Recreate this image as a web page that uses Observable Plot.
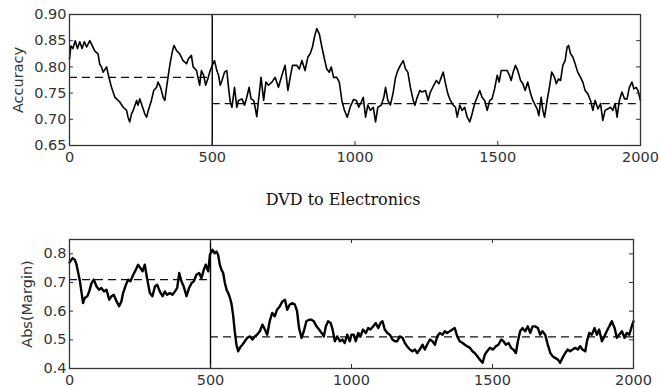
<!DOCTYPE html>
<html><head><meta charset="utf-8">
<script src="https://cdn.jsdelivr.net/npm/d3@7"></script>
<script src="https://cdn.jsdelivr.net/npm/@observablehq/plot@0.6"></script>
<style>
body{margin:0;background:#fff;width:660px;height:387px;overflow:hidden;position:relative;}
#top{position:absolute;left:0;top:0;}
#bot{position:absolute;left:0;top:230px;}
#title{position:absolute;left:343px;top:192px;transform:translateX(-50%);white-space:nowrap;font-family:"DejaVu Serif",serif;font-size:16px;line-height:1;color:#111;}
</style></head><body>
<div id="top"></div>
<div id="title"></div>
<div id="bot"></div>
<script>
const titleText = "DVD to Electronics";
const accLabel = "Accuracy";
const marginLabel = "Abs(Margin)";
const switchPoint = [500];
const xTicks = [0, 500, 1000, 1500, 2000];
const accTicks = [0.65, 0.70, 0.75, 0.80, 0.85, 0.90];
const marginTicks = [0.4, 0.5, 0.6, 0.7, 0.8];

// Accuracy series (instance index, value)
const accT = [0,5,12,20,28,36,44,52,60,71,80,89,100,106,112,118,130,135,141,147,159,165,176,188,200,205,211,217,223,235,240,246,256,264,270,276,287,295,305,310,319,328,334,340,346,354,361,366,375,386,398,410,416,427,433,445,450,456,462,470,477,486,491,500,
508,516,522,528,534,543,551,557,563,569,578,586,592,604,613,621,629,636,645,650,656,662,671,680,688,697,709,720,732,744,755,765,773,781,796,805,814,825,835,843,851,858,866,875,884,893,901,910,917,925,936,945,954,963,973,983,995,
1005,1013,1022,1029,1037,1045,1054,1064,1072,1080,1092,1101,1107,1115,1124,1134,1142,1150,1159,1169,1177,1185,1194,1204,1210,1218,1227,1235,1247,1256,1264,1276,1285,1294,1302,1309,1317,1325,1334,1344,1352,1358,1367,1375,1384,1393,1402,1410,1419,1428,1437,1445,1454,1463,1472,1480,1489,1498,
1505,1512,1524,1533,1541,1547,1554,1562,1570,1580,1588,1596,1605,1615,1623,1631,1638,1644,1652,1658,1664,1673,1681,1689,1699,1705,1713,1720,1728,1736,1743,1748,1755,1763,1771,1780,1790,1798,1806,1815,1825,1833,1841,1851,1860,1868,1876,1886,1895,1903,1911,1918,1926,1935,1944,1953,1961,1970,1977,1985,1991,2000];
const accV = [0.815,0.84,0.835,0.85,0.835,0.848,0.835,0.848,0.838,0.85,0.84,0.83,0.825,0.805,0.80,0.79,0.80,0.787,0.774,0.761,0.742,0.739,0.733,0.723,0.717,0.704,0.695,0.71,0.717,0.736,0.727,0.739,0.723,0.71,0.704,0.717,0.736,0.755,0.761,0.771,0.761,0.742,0.736,0.761,0.784,0.812,0.831,0.841,0.831,0.825,0.812,0.806,0.815,0.822,0.80,0.793,0.78,0.765,0.793,0.784,0.765,0.78,0.79,0.803,
0.812,0.793,0.784,0.765,0.774,0.79,0.793,0.761,0.733,0.723,0.761,0.723,0.736,0.739,0.727,0.742,0.761,0.739,0.736,0.723,0.705,0.736,0.78,0.736,0.771,0.765,0.771,0.78,0.761,0.784,0.803,0.755,0.78,0.803,0.803,0.796,0.812,0.793,0.819,0.825,0.838,0.857,0.873,0.863,0.838,0.815,0.796,0.79,0.80,0.78,0.78,0.771,0.736,0.717,0.704,0.723,0.738,
0.736,0.723,0.733,0.742,0.704,0.727,0.717,0.723,0.695,0.723,0.727,0.742,0.761,0.736,0.727,0.752,0.78,0.793,0.803,0.812,0.796,0.79,0.761,0.736,0.727,0.742,0.755,0.752,0.755,0.736,0.752,0.765,0.774,0.768,0.78,0.79,0.768,0.749,0.736,0.727,0.723,0.704,0.727,0.717,0.723,0.704,0.695,0.71,0.73,0.742,0.755,0.742,0.736,0.717,0.736,0.739,0.758,0.784,
0.771,0.793,0.793,0.793,0.784,0.774,0.79,0.803,0.793,0.774,0.768,0.755,0.771,0.749,0.736,0.727,0.72,0.707,0.742,0.717,0.704,0.736,0.761,0.79,0.78,0.768,0.777,0.774,0.803,0.812,0.838,0.841,0.825,0.819,0.806,0.79,0.78,0.771,0.755,0.749,0.736,0.717,0.736,0.72,0.73,0.698,0.717,0.72,0.723,0.717,0.73,0.704,0.736,0.752,0.739,0.739,0.761,0.771,0.758,0.761,0.755,0.736];
const accMeanX1 = [0, 500];
const accMeanX2 = [500, 2000];
const accMeanV = [0.78, 0.73];

// Abs(Margin) series
const marT = [0,11,19,25,31,37,43,48,54,63,70,78,86,96,105,113,122,131,141,149,157,167,176,184,190,200,208,216,226,235,243,252,259,267,275,285,294,303,311,320,330,338,346,356,365,374,382,389,397,405,415,424,433,441,450,460,468,476,483,492,498,
507,515,521,527,533,539,545,551,557,563,569,574,580,586,592,598,604,613,622,630,640,649,657,665,675,684,693,701,710,719,728,736,746,755,764,772,781,791,799,807,814,823,831,840,850,858,866,876,885,894,902,909,917,926,933,941,949,959,968,976,985,994,
1000,1008,1015,1024,1032,1041,1051,1059,1067,1077,1086,1095,1103,1110,1118,1127,1136,1145,1154,1162,1171,1181,1189,1197,1207,1216,1225,1233,1242,1252,1260,1268,1278,1287,1296,1304,1313,1323,1331,1339,1349,1358,1366,1375,1384,1394,1402,1410,1420,1429,1437,1446,1455,1465,1473,1481,1491,
1502,1512,1521,1531,1539,1547,1557,1566,1574,1583,1590,1598,1606,1616,1625,1634,1642,1651,1661,1669,1677,1687,1696,1705,1713,1722,1732,1740,1748,1758,1767,1775,1784,1793,1803,1811,1819,1829,1835,1843,1852,1862,1870,1878,1888,1897,1905,1914,1923,1933,1941,1949,1959,1968,1976,1985,1992,2000];
const marV = [0.77,0.785,0.779,0.762,0.733,0.704,0.663,0.628,0.646,0.652,0.669,0.698,0.71,0.686,0.675,0.681,0.669,0.675,0.64,0.652,0.657,0.634,0.617,0.634,0.663,0.692,0.71,0.704,0.727,0.744,0.762,0.75,0.739,0.762,0.715,0.663,0.652,0.686,0.692,0.669,0.652,0.669,0.657,0.663,0.657,0.669,0.681,0.733,0.704,0.686,0.652,0.681,0.698,0.704,0.727,0.733,0.715,0.744,0.762,0.739,0.797,
0.814,0.802,0.808,0.797,0.762,0.744,0.733,0.698,0.675,0.663,0.646,0.628,0.588,0.53,0.483,0.46,0.472,0.483,0.495,0.507,0.512,0.501,0.512,0.518,0.53,0.553,0.536,0.518,0.565,0.594,0.582,0.605,0.617,0.634,0.64,0.605,0.623,0.628,0.623,0.60,0.541,0.507,0.53,0.565,0.57,0.57,0.565,0.547,0.536,0.524,0.512,0.547,0.565,0.559,0.536,0.495,0.512,0.495,0.501,0.489,0.518,0.495,
0.518,0.518,0.495,0.524,0.512,0.536,0.524,0.541,0.536,0.547,0.559,0.541,0.559,0.565,0.536,0.524,0.518,0.501,0.495,0.495,0.512,0.507,0.489,0.478,0.466,0.46,0.466,0.454,0.466,0.483,0.466,0.483,0.501,0.495,0.483,0.512,0.524,0.518,0.53,0.524,0.53,0.536,0.541,0.512,0.495,0.489,0.483,0.478,0.472,0.46,0.454,0.443,0.431,0.42,0.449,0.46,0.472,
0.466,0.478,0.483,0.501,0.495,0.483,0.489,0.472,0.466,0.454,0.495,0.53,0.541,0.53,0.547,0.524,0.547,0.547,0.541,0.518,0.53,0.518,0.483,0.454,0.443,0.437,0.431,0.42,0.437,0.454,0.466,0.46,0.466,0.472,0.466,0.478,0.466,0.46,0.495,0.524,0.518,0.541,0.518,0.536,0.495,0.512,0.53,0.547,0.565,0.541,0.507,0.518,0.53,0.507,0.524,0.518,0.541,0.565];
const marMeanX1 = [0, 500];
const marMeanX2 = [500, 2000];
const marMeanV = [0.71, 0.51];

const accData = accT.map((t, i) => ({t, v: accV[i]}));
const marData = marT.map((t, i) => ({t, v: marV[i]}));
const accMeans = accMeanV.map((v, i) => ({v, x1: accMeanX1[i], x2: accMeanX2[i]}));
const marMeans = marMeanV.map((v, i) => ({v, x1: marMeanX1[i], x2: marMeanX2[i]}));

const axisColor = "#333";
const textColor = "#333";

function panel({data, means, yDomain, yTicks, yFmt, label, height, mt, mb, mr, labelDx, lineWidth}) {
  const fw = 660 - 69 - mr;
  const fh = height - mt - mb;
  return Plot.plot({
    width: 660, height,
    marginTop: mt, marginBottom: mb, marginLeft: 69, marginRight: mr,
    x: {domain: [0, 2000]},
    y: {domain: yDomain},
    style: {fontFamily: "DejaVu Sans, sans-serif", fontSize: "14.5px", color: textColor, background: "transparent", overflow: "visible"},
    marks: [
      Plot.ruleY(means, {y: "v", x1: "x1", x2: "x2", stroke: "#111", strokeWidth: 1.2, strokeDasharray: "8,5"}),
      Plot.line(data, {x: "t", y: "v", stroke: "#000", strokeWidth: lineWidth, strokeLinejoin: "round"}),
      Plot.ruleX(switchPoint, {stroke: "#000", strokeWidth: 1.4}),
      Plot.ruleX(xTicks, {x: d => d, stroke: axisColor, insetTop: fh - 4}),
      Plot.ruleX(xTicks, {x: d => d, stroke: axisColor, insetBottom: fh - 4}),
      Plot.ruleY(yTicks, {y: d => d, stroke: axisColor, insetRight: fw - 4}),
      Plot.ruleY(yTicks, {y: d => d, stroke: axisColor, insetLeft: fw - 4}),
      Plot.frame({stroke: axisColor, strokeWidth: 1.3}),
      Plot.axisX(xTicks, {tickSize: 0, tickPadding: 6, tickFormat: d => String(d), label: null, fill: textColor, fontSize: 14.5}),
      Plot.axisY(yTicks, {tickSize: 0, tickPadding: 3, tickFormat: yFmt, label: null, fill: textColor, fontSize: 14.5}),
      Plot.text([label], {text: d => d, frameAnchor: "left", textAnchor: "middle", rotate: -90, dx: labelDx, fill: textColor, fontSize: 14.5})
    ]
  });
}

document.getElementById("top").appendChild(panel({
  data: accData, means: accMeans, yDomain: [0.65, 0.9], yTicks: accTicks,
  yFmt: d => d.toFixed(2), label: accLabel, height: 175, mt: 14, mb: 30, mr: 20, labelDx: -51, lineWidth: 1.6
}));
document.getElementById("bot").appendChild(panel({
  data: marData, means: marMeans, yDomain: [0.4, 0.85], yTicks: marginTicks,
  yFmt: d => d.toFixed(1), label: marginLabel, height: 157, mt: 9, mb: 19, mr: 27, labelDx: -42, lineWidth: 2.4
}));
document.getElementById("title").textContent = titleText;
</script>
</body></html>
